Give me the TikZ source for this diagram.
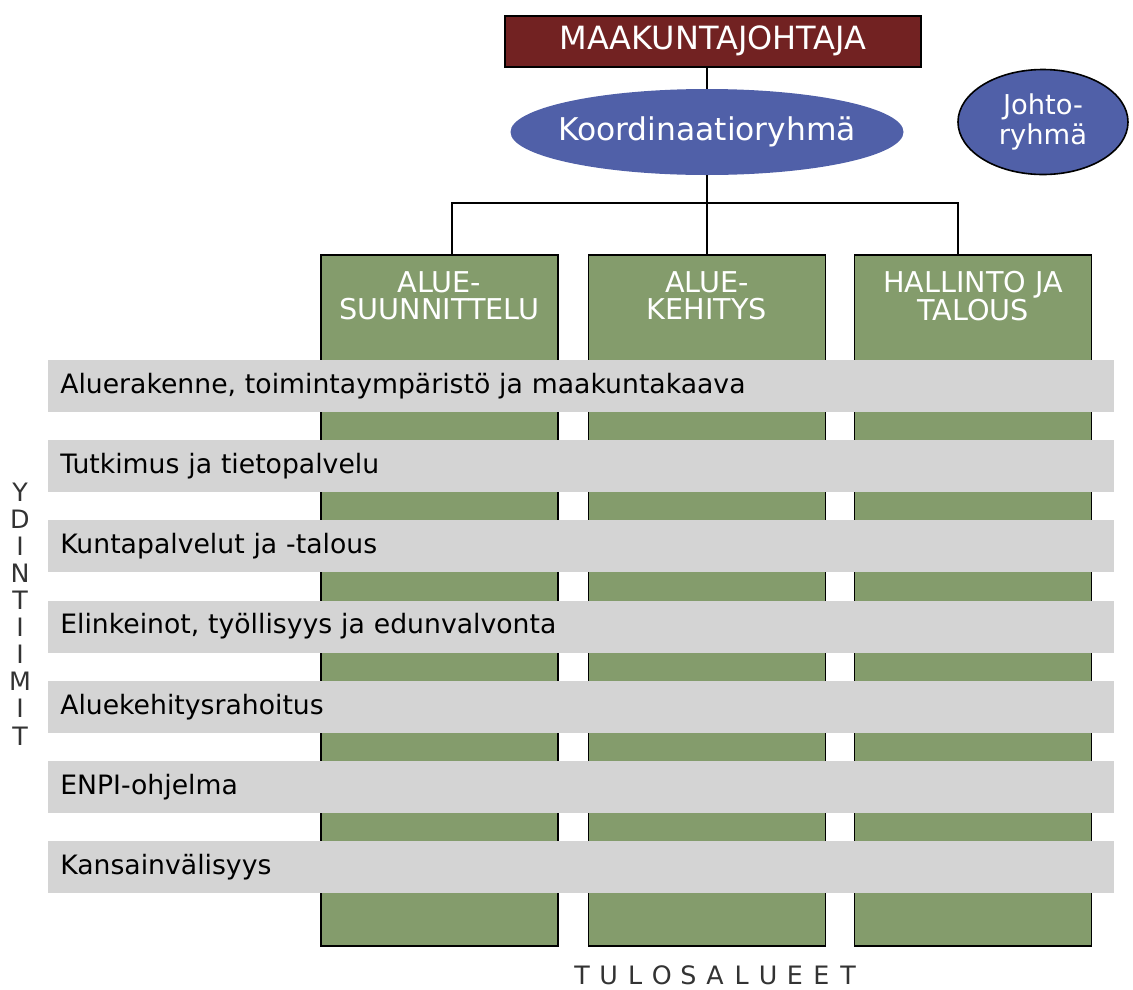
\documentclass[tikz,border=0pt]{standalone}
\usepackage{fontspec}
\setmainfont{DejaVu Sans}
\usepackage{xcolor}
\usetikzlibrary{shapes.geometric}

\definecolor{bossred}{HTML}{722222}
\definecolor{teamblue}{HTML}{5060A8}
\definecolor{areagreen}{HTML}{849C6C}
\definecolor{corebar}{HTML}{D4D4D4}

\begin{document}
\begin{tikzpicture}[x=0.75pt,y=-0.75pt,
  column/.style={draw=black,line width=1.2pt,fill=areagreen,anchor=north,
    minimum width=177.75pt,minimum height=518.25pt,inner sep=0pt},
  coltitle/.style={anchor=north,text=white,align=center,
    font=\fontsize{21.5}{20.5}\selectfont,inner sep=0pt},
  corebox/.style={fill=corebar,anchor=west,minimum height=39pt,
    text width=781.5pt,inner xsep=9pt,align=left,
    font=\fontsize{20}{21}\selectfont},
  spaced/.style={text=black!80,font=\fontsize{19}{20.3}\selectfont,inner sep=0pt}]
\useasboundingbox (0,0) rectangle (1133,990);

\node[draw=black,line width=1.5pt,fill=bossred,text=white,minimum width=312pt,
  minimum height=38.25pt,font=\fontsize{24}{26}\selectfont] (boss) at (713,41) {MAAKUNTAJOHTAJA};
\node[ellipse,fill=teamblue,text=white,minimum width=294.75pt,minimum height=64.5pt,
  inner xsep=-30pt,inner ysep=0pt,font=\fontsize{23.5}{25}\selectfont] (koord) at (707,132) {Koordinaatioryhmä};
\node[ellipse,draw=black,line width=1.2pt,fill=teamblue,text=white,align=center,
  minimum width=127.5pt,minimum height=78.75pt,inner sep=0pt,
  font=\fontsize{20.5}{22.5}\selectfont] (johto) at (1043,122) {Johto-\\ryhmä};

% tulosalueet
\node[column] (alsu) at (439.5,254) {};
\node[column] (alke) at (707,254) {};
\node[column] (hata) at (973,254) {};
\node[coltitle] (alsut) at ([yshift=-13pt]alsu.north) {ALUE-\\SUUNNITTELU};
\node[coltitle] (alket) at ([yshift=-13pt]alke.north) {ALUE-\\KEHITYS};
\node[coltitle] (hatat) at ([yshift=-13pt]hata.north) {HALLINTO JA\\TALOUS};

\coordinate (fork) at (707,203);
\draw[line width=1pt] (koord.north) -- (koord.north |- boss.south);
\draw[line width=1pt] (koord) -- (alke);
\draw[line width=1pt] ([xshift=9.4pt]alsu.north) |- (fork) -| ([xshift=-11.25pt]hata.north);

% ydintiimit
\foreach \txt [count=\i] in {{Aluerakenne, toimintaympäristö ja maakuntakaava},
    {Tutkimus ja tietopalvelu},{Kuntapalvelut ja -talous},
    {Elinkeinot, työllisyys ja edunvalvonta},{Aluekehitysrahoitus},
    {ENPI-ohjelma},{Kansainvälisyys}}
  \node[corebox] (core\i) at (48,{386+80.17*(\i-1)}) {\txt};

\node[spaced,align=center] (ydin) at (20,614) {Y\\D\\I\\N\\T\\I\\I\\M\\I\\T};
\foreach \ch [count=\i] in {T,U,L,O,S,A,L,U,E,E,T}
  \node[spaced] (tulos\i) at ({582+26.6*(\i-1)},975) {\ch};

\end{tikzpicture}
\end{document}
